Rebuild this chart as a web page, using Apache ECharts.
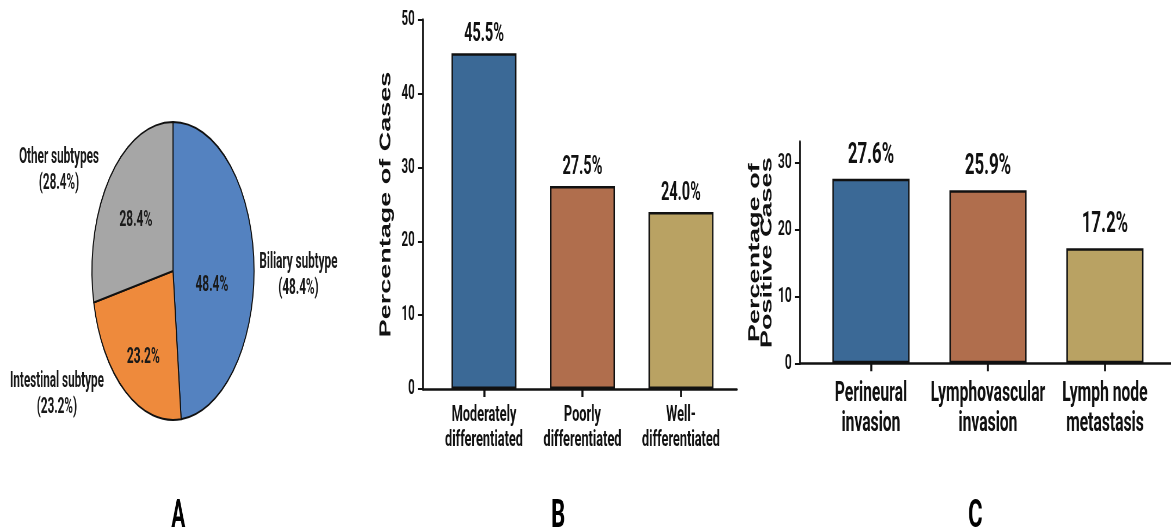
<!DOCTYPE html>
<html>
<head>
<meta charset="utf-8">
<script src="https://cdn.jsdelivr.net/npm/echarts@6/dist/echarts.min.js"></script>
<style>
html,body{margin:0;padding:0;background:#fff;width:1171px;height:532px;overflow:hidden;}
#pie{position:absolute;left:0;top:0;width:625px;height:532px;transform:scaleX(0.544);transform-origin:0 0;}
#bars{position:absolute;left:340px;top:0;width:1433px;height:532px;transform:scaleX(0.58);transform-origin:0 0;}
</style>
</head>
<body>
<div id="pie"></div>
<div id="bars"></div>
<script>
// ---- data ----
const pieCategories = ['Biliary subtype', 'Intestinal subtype', 'Other subtypes'];
const pieValues = [48.4, 23.2, 28.4];
const pieColors = ['#5482c0', '#ee8a3c', '#a6a6a6'];

const gradeCategories = ['Moderately\ndifferentiated', 'Poorly\ndifferentiated', 'Well-\ndifferentiated'];
const gradeValues = [45.5, 27.5, 24.0];
const gradeTicks = [0, 10, 20, 30, 40, 50];

const invasionCategories = ['Perineural\ninvasion', 'Lymphovascular\ninvasion', 'Lymph node\nmetastasis'];
const invasionValues = [27.6, 25.9, 17.2];
const invasionTicks = [0, 10, 20, 30];

const barColors = ['#3b6996', '#b06e4d', '#b9a263'];
const panelLetters = ['A', 'B', 'C'];
const categoryPositions = [0, 1, 2];

// ---- pie ----
const FONT = 'Roboto';
const innerNudge = [[-6, 18], [-9, 24], [-8, -2]];
const outerNudge = [[1, 12], [-32, 0], [-12, -4]];
const pieData = pieCategories.map((n, i) => ({ name: n, value: pieValues[i], itemStyle: { color: pieColors[i] } }));

const pieChart = echarts.init(document.getElementById('pie'));
pieChart.setOption({
  animation: false,
  graphic: [{
    type: 'text', left: 327 - 12, top: 498,
    style: { text: panelLetters[0], font: 'bold 38px Roboto', fill: '#000' }
  }],
  series: [{
    type: 'pie', center: [318, 271], radius: 149, startAngle: 90, clockwise: true,
    itemStyle: { borderColor: '#111', borderWidth: 2 },
    label: {
      position: 'inside', color: '#1a1a1a', fontFamily: FONT, fontWeight: 'bold', fontSize: 22,
      formatter: p => p.value.toFixed(1) + '%'
    },
    labelLayout: p => ({ dx: innerNudge[p.dataIndex][0], dy: innerNudge[p.dataIndex][1] }),
    data: pieData
  }, {
    type: 'pie', center: [318, 271], radius: 149, startAngle: 90, clockwise: true, silent: true,
    itemStyle: { color: 'rgba(0,0,0,0)', borderWidth: 0 },
    label: {
      position: 'outside', color: '#1a1a1a', fontFamily: FONT, fontWeight: 'bold', fontSize: 21.5,
      lineHeight: 26, align: 'center', overflow: 'none', alignTo: 'none',
      formatter: p => p.name + '\n(' + p.value.toFixed(1) + '%)'
    },
    labelLine: { show: false, length: 4, length2: 0 },
    labelLayout: p => {
      const r = p.labelRect;
      return {
        x: r.x + r.width / 2 + outerNudge[p.dataIndex][0],
        y: r.y + r.height / 2 + outerNudge[p.dataIndex][1],
        align: 'center', verticalAlign: 'middle'
      };
    },
    data: pieCategories.map((n, i) => ({ name: n, value: pieValues[i] }))
  }]
});

// ---- bars ----
function barData(values) {
  return values.map((v, i) => ({ value: [categoryPositions[i], v], itemStyle: { color: barColors[i] } }));
}
function xAxis(gridIndex, cats, min, max, fontSize, lineHeight, margin) {
  return {
    gridIndex, type: 'value', min, max,
    axisLine: { show: true, onZero: false, lineStyle: { color: '#111', width: 2.5 } },
    axisTick: { show: false },
    axisLabel: {
      customValues: categoryPositions, formatter: v => cats[Math.round(v)],
      color: '#111', fontFamily: FONT, fontWeight: 'bold', fontSize, lineHeight, margin
    },
    splitLine: { show: false }
  };
}
// category axis that only draws the tick marks under each bar
function tickAxis(gridIndex, cats) {
  return {
    gridIndex, type: 'category', data: cats, position: 'bottom', z: 10,
    axisLine: { show: true, onZero: false, lineStyle: { color: 'rgba(0,0,0,0)', width: 1 } },
    axisTick: { show: true, inside: false, interval: 0, alignWithLabel: true, length: 8, lineStyle: { color: '#111', width: 3.5, opacity: 1 } },
    axisLabel: { show: true, color: 'rgba(0,0,0,0)', fontSize: 1 },
    splitLine: { show: false }
  };
}
function yAxis(gridIndex, max, ticks, name, nameGap, nameFontSize, nameLineHeight, labelSize) {
  return {
    gridIndex, type: 'value', min: 0, max,
    name, nameLocation: 'middle', nameRotate: 90, nameGap,
    nameTextStyle: { fontFamily: 'Liberation Sans', fontWeight: 'bold', fontSize: nameFontSize, lineHeight: nameLineHeight, color: '#111' },
    axisLine: { show: true, onZero: false, lineStyle: { color: '#111', width: 3.5 } },
    axisTick: { show: true, customValues: ticks, length: 9, lineStyle: { color: '#111', width: 2 } },
    axisLabel: { customValues: ticks, color: '#111', fontFamily: FONT, fontWeight: 'bold', fontSize: labelSize, margin: 14 },
    splitLine: { show: false }
  };
}

const barChart = echarts.init(document.getElementById('bars'));
barChart.setOption({
  animation: false,
  graphic: [
    { type: 'text', left: 376 - 12, top: 498, style: { text: panelLetters[1], font: 'bold 38px Roboto', fill: '#000' } },
    { type: 'text', left: 1095 - 12, top: 498, style: { text: panelLetters[2], font: 'bold 38px Roboto', fill: '#000' } }
  ],
  grid: [
    { left: 143, top: 20, width: 541.4, height: 369 },
    { left: 793, top: 142, width: 639.8, height: 221.3 },
    { left: 163.4, top: 20, width: 509.4, height: 369 },
    { left: 814.65, top: 142, width: 605.1, height: 221.3 }
  ],
  xAxis: [
    xAxis(0, gradeCategories, -0.62, 2.569, 22, 25, 14),
    xAxis(1, invasionCategories, -0.607, 2.565, 27, 30, 16),
    tickAxis(2, gradeCategories),
    tickAxis(3, invasionCategories)
  ],
  yAxis: [
    yAxis(0, 50, gradeTicks, 'Percentage of Cases', 48, 27, 30, 20),
    yAxis(1, 33.1, invasionTicks, 'Percentage of\nPositive Cases', 46, 27, 21, 21),
    { gridIndex: 2, type: 'value', min: 0, max: 1, show: false },
    { gridIndex: 3, type: 'value', min: 0, max: 1, show: false }
  ],
  series: [{
    type: 'bar', xAxisIndex: 0, yAxisIndex: 0, barWidth: 112,
    itemStyle: { borderColor: '#111', borderWidth: 2.5 },
    label: { show: true, position: 'top', distance: 6, color: '#111', fontFamily: FONT, fontWeight: 'bold', fontSize: 25, formatter: p => p.value[1].toFixed(1) + '%' },
    data: barData(gradeValues)
  }, {
    type: 'bar', xAxisIndex: 1, yAxisIndex: 1, barWidth: 133,
    itemStyle: { borderColor: '#111', borderWidth: 2.5 },
    label: { show: true, position: 'top', distance: 9, color: '#111', fontFamily: FONT, fontWeight: 'bold', fontSize: 29, formatter: p => p.value[1].toFixed(1) + '%' },
    data: barData(invasionValues)
  }]
});
</script>
</body>
</html>
